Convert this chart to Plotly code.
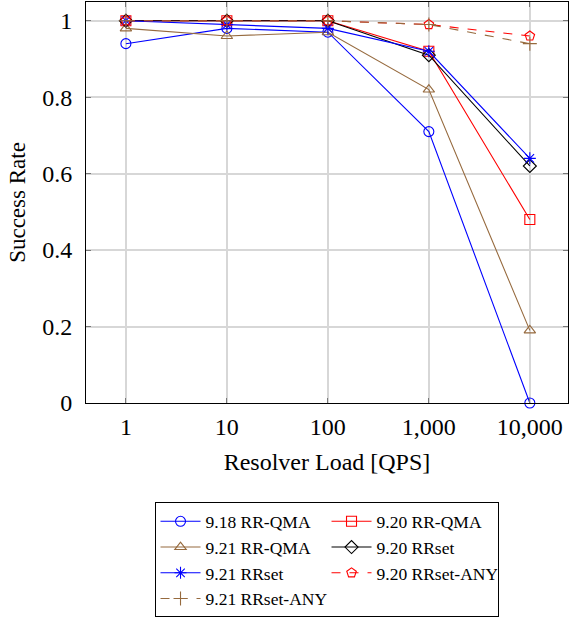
import plotly.graph_objects as go

loads = [1, 10, 100, 1000, 10000]
tick_labels = ["1", "10", "100", "1,000", "10,000"]

qma_918 = [0.94, 0.98, 0.97, 0.71, 0.0]
qma_920 = [1.0, 1.0, 1.0, 0.92, 0.48]
qma_921 = [0.98, 0.96, 0.97, 0.82, 0.19]
rrset_920 = [1.0, 1.0, 1.0, 0.91, 0.62]
rrset_921 = [1.0, 0.99, 0.98, 0.92, 0.64]
any_920 = [1.0, 1.0, 1.0, 0.99, 0.96]
any_921 = [1.0, 1.0, 1.0, 0.99, 0.94]

BROWN = "rgb(150,106,62)"
series = [
    ("9.18 RR-QMA", qma_918, "blue", "circle-open", "solid"),
    ("9.20 RR-QMA", qma_920, "red", "square-open", "solid"),
    ("9.21 RR-QMA", qma_921, BROWN, "triangle-up-open", "solid"),
    ("9.20 RRset", rrset_920, "black", "diamond-open", "solid"),
    ("9.21 RRset", rrset_921, "blue", "asterisk-open", "solid"),
    ("9.20 RRset-ANY", any_920, "red", "pentagon-open", "dash"),
    ("9.21 RRset-ANY", any_921, BROWN, "cross-thin-open", "dash"),
]

fig = go.Figure()
for name, vals, color, sym, dash in series:
    fig.add_trace(go.Scatter(
        x=loads, y=vals, name=name, mode="lines+markers",
        line=dict(color=color, width=1.1, dash=dash),
        marker=dict(symbol=sym, size=10, color=color, line=dict(color=color, width=1.1)),
        cliponaxis=False,
    ))

FONT = "Liberation Serif, Times New Roman, serif"
fig.update_layout(
    width=569, height=619,
    margin=dict(l=86, r=1, t=2, b=214),
    paper_bgcolor="white", plot_bgcolor="white",
    font=dict(family=FONT, size=24, color="black"),
    showlegend=True,
    legend=dict(
        orientation="h", x=0.499, xanchor="center", y=-0.248, yanchor="top",
        entrywidth=116, entrywidthmode="pixels", itemwidth=40,
        bordercolor="black", borderwidth=1,
        font=dict(family=FONT, size=17.5, color="black"),
        traceorder="normal",
    ),
    xaxis=dict(
        type="log", range=[-0.395, 4.378], automargin=False,
        tickvals=loads, ticktext=tick_labels,
        showgrid=True, gridcolor="rgb(215,215,215)", gridwidth=1.5,
        ticks="inside", ticklen=5, tickcolor="rgb(120,120,120)", mirror="ticks",
        showline=True, linecolor="black", linewidth=1,
        title=dict(text="Resolver Load [QPS]", font=dict(size=24), standoff=14),
        tickfont=dict(size=24), zeroline=False, ticklabelstandoff=2,
    ),
    yaxis=dict(
        range=[0, 1.049], automargin=False,
        tickvals=[0, 0.2, 0.4, 0.6, 0.8, 1.0],
        ticktext=["0", "0.2", "0.4", "0.6", "0.8", "1"],
        showgrid=True, gridcolor="rgb(215,215,215)", gridwidth=1.5,
        ticks="inside", ticklen=5, tickcolor="rgb(120,120,120)", mirror="ticks",
        showline=True, linecolor="black", linewidth=1,
        title=dict(text="Success Rate", font=dict(size=23), standoff=10),
        tickfont=dict(size=24), zeroline=False, ticklabelstandoff=8,
    ),
)

fig.write_html("out.html", config={"displayModeBar": False},
               post_script="document.body.style.margin='0';")
